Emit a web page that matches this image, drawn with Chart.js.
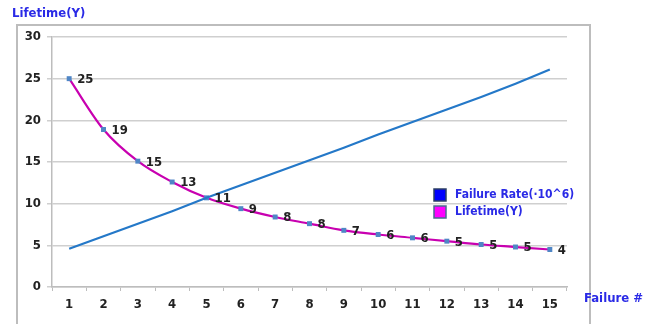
<!DOCTYPE html>
<html>
<head>
<meta charset="utf-8">
<script src="https://cdn.jsdelivr.net/npm/chart.js@4/dist/chart.umd.min.js"></script>
<style>
  html, body { margin: 0; padding: 0; background: #fff; }
  #wrap { width: 649px; height: 324px; position: relative; }
</style>
</head>
<body>
<div id="wrap"><canvas id="lifeChart"></canvas></div>
<script>
const failureNo = ['1', '2', '3', '4', '5', '6', '7', '8', '9', '10', '11', '12', '13', '14', '15'];
const failureRate = [4.6, 6.1, 7.6, 9.1, 10.7, 12.2, 13.7, 15.2, 16.7, 18.3, 19.8, 21.3, 22.8, 24.4, 26.1];
const lifetime = [25, 18.9, 15.1, 12.6, 10.7, 9.4, 8.4, 7.6, 6.8, 6.3, 5.9, 5.5, 5.1, 4.8, 4.5];
const lifetimeLabels = ['25', '19', '15', '13', '11', '9', '8', '8', '7', '6', '6', '5', '5', '5', '4'];

const FONT = "'Liberation Sans Narrow', 'DejaVu Sans Condensed', sans-serif";

// frame, axis titles, point labels and the legend are drawn by hand
const extras = {
    id: 'extras',
    beforeDraw(chart) {
        const c = chart.ctx;
        c.save();
        c.strokeStyle = '#bdbdbd';
        c.lineWidth = 2;
        c.beginPath();
        c.moveTo(17, 324);
        c.lineTo(17, 25);
        c.lineTo(590, 25);
        c.lineTo(590, 324);
        c.stroke();
        c.restore();
    },
    afterDatasetsDraw(chart) {
        const c = chart.ctx;
        c.save();
        // lifetime value labels
        const meta = chart.getDatasetMeta(1);
        c.fillStyle = '#222';
        c.font = 'bold 13px ' + FONT;
        c.textBaseline = 'middle';
        c.textAlign = 'left';
        meta.data.forEach((pt, i) => {
            c.fillText(lifetimeLabels[i], pt.x + 8, pt.y + 1);
        });

        // axis titles
        c.fillStyle = '#2a2ae6';
        c.font = 'bold 13px ' + FONT;
        c.fillText('Lifetime(Y)', 12, 14);
        c.fillText('Failure #', 584, 299);

        // legend
        const items = [
            { text: chart.data.datasets[0].label, fill: '#0000ff', edge: '#2b3f63' },
            { text: chart.data.datasets[1].label, fill: '#ff00ff', edge: '#4a6a8f' }
        ];
        c.font = 'bold 12px ' + FONT;
        items.forEach((it, i) => {
            const y = 189 + i * 17;
            c.fillStyle = it.fill;
            c.fillRect(434, y, 12, 12);
            c.strokeStyle = it.edge;
            c.lineWidth = 1.5;
            c.strokeRect(434, y, 12, 12);
            c.fillStyle = '#2a2ae6';
            c.fillText(it.text, 455, y + 6);
        });
        c.restore();
    }
};

new Chart(document.getElementById('lifeChart'), {
    type: 'line',
    data: {
        labels: failureNo,
        datasets: [{
            label: 'Failure Rate(·10^6)',
            data: failureRate,
            borderColor: '#2478c8',
            borderWidth: 2.2,
            pointRadius: 0,
            tension: 0
        }, {
            label: 'Lifetime(Y)',
            data: lifetime,
            borderColor: '#c800b0',
            borderWidth: 2.2,
            cubicInterpolationMode: 'monotone',
            pointStyle: 'rect',
            pointRadius: 3.5,
            pointBackgroundColor: '#4f86c6',
            pointBorderColor: '#4f86c6',
            pointBorderWidth: 0
        }]
    },
    options: {
        responsive: true,
        maintainAspectRatio: false,
        animation: false,
        layout: { padding: { left: 0, right: 82, top: 37, bottom: 0 } },
        scales: {
            x: {
                offset: true,
                afterFit: (s) => { s.height = 37; },
                border: { color: '#bdbdbd', width: 1.5 },
                grid: { offset: true, drawOnChartArea: false, drawTicks: true, tickLength: 4, color: '#bdbdbd' },
                ticks: { color: '#222', padding: 6, font: { family: FONT, size: 13, weight: 'bold' } }
            },
            y: {
                min: 0,
                max: 30,
                afterFit: (s) => { s.width = 52; },
                border: { color: '#bdbdbd', width: 1.5 },
                grid: { color: '#cfcfcf', lineWidth: 1.5, tickLength: 5 },
                ticks: { stepSize: 5, color: '#222', padding: 6, font: { family: FONT, size: 13, weight: 'bold' } }
            }
        },
        plugins: {
            legend: { display: false },
            tooltip: { enabled: false }
        }
    },
    plugins: [extras]
});
</script>
</body>
</html>
